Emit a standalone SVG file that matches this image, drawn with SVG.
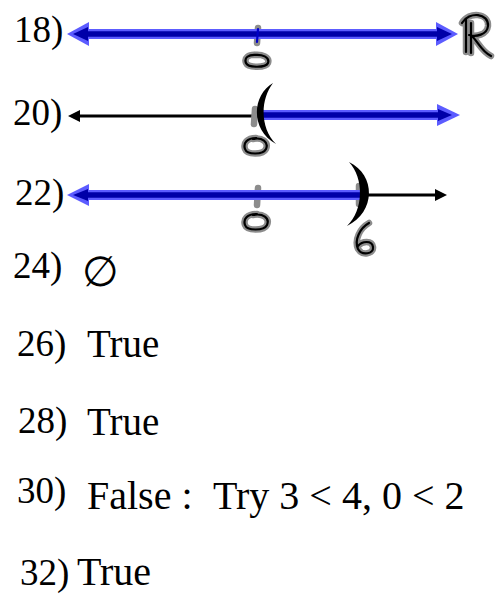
<svg xmlns="http://www.w3.org/2000/svg" width="501" height="595" viewBox="0 0 501 595">
<style>
.lbl{font-family:"Liberation Serif","Times New Roman",serif;font-size:37px;fill:#000}
.ans{font-family:"Liberation Serif","Times New Roman",serif;font-size:39px;fill:#000}
.sym{font-family:"DejaVu Serif","Liberation Serif",serif;font-size:42px;fill:#000}
.halo{fill:none;stroke:#8c8c8c;stroke-width:6.5;stroke-linecap:round;stroke-linejoin:round}
.ink{fill:none;stroke:#000;stroke-width:2.2;stroke-linecap:round;stroke-linejoin:round}
.bl{stroke:#5c5cff;stroke-width:10}
.bd{stroke:#0000a8;stroke-width:5.5}
.k{stroke:#000;stroke-width:3}
.blf{fill:#5c5cff}
.bdf{fill:#0000a8}
.kf{fill:#000}
</style>

<g id="row18">
  <text class="lbl" x="14" y="42">18)</text>
  <path class="halo" d="M258,28 L257,43"/>
  <line class="bl" x1="82" y1="34" x2="442" y2="34"/>
  <polygon class="blf" points="67,34 89,22 89,46"/>
  <polygon class="blf" points="458,34 436,22 436,46"/>
  <line class="bd" x1="82" y1="34" x2="442" y2="34"/>
  <polygon class="bdf" points="73,34 88,27 88,41"/>
  <polygon class="bdf" points="452,34 437,27 437,41"/>
  <path class="ink" d="M258,29 L257,42" style="stroke:#0000c8"/>
  <g id="zero18">
    <path class="halo" d="M257,55 C248,54 244,58 246,63 C248,68 266,68 268,63 C270,57 262,54 254,55"/>
    <path class="ink" d="M257,55 C248,54 244,58 246,63 C248,68 266,68 268,63 C270,57 262,54 254,55"/>
  </g>
  <g id="reals">
    <path class="halo" d="M466,19 L466,52 M471,23 L471,53 M462,23 C469,11 489,13 488,26 C487,35 476,37 469,35 M472,36 C478,42 482,52 491,56"/>
    <path class="ink" d="M466,19 L466,52 M471,23 L471,53 M462,23 C469,11 489,13 488,26 C487,35 476,37 469,35 M472,36 C478,42 482,52 491,56"/>
  </g>
</g>

<g id="row20">
  <text class="lbl" x="13" y="125">20)</text>
  <line class="k" x1="76" y1="116" x2="258" y2="116"/>
  <polygon class="kf" points="68,116 80,110 80,122"/>
  <path class="halo" d="M255,109 L254,124"/>
  <line class="bl" x1="262" y1="115" x2="440" y2="115"/>
  <polygon class="blf" points="460,115 437,104 437,126"/>
  <line class="bd" x1="262" y1="115" x2="440" y2="115" stroke-linecap="round"/>
  <polygon class="bdf" points="452,115 438,109 438,121"/>
  <path class="kf" d="M273,83 C252,95 250,130 276,144 C260,128 260,100 273,83 Z"/>
  <g id="zero20">
    <path class="halo" d="M256,138 C247,138 243,143 245,149 C247,155 263,155 266,149 C269,142 262,137 253,139"/>
    <path class="ink" d="M256,138 C247,138 243,143 245,149 C247,155 263,155 266,149 C269,142 262,137 253,139"/>
  </g>
</g>

<g id="row22">
  <text class="lbl" x="15" y="205">22)</text>
  <path class="halo" d="M258,188 L257,205"/>
  <path class="halo" d="M359,186 L359,204"/>
  <line class="bl" x1="82" y1="195" x2="360" y2="195"/>
  <polygon class="blf" points="67,195 89,184 89,206"/>
  <line class="bd" x1="82" y1="195" x2="360" y2="195"/>
  <polygon class="bdf" points="73,195 88,189 88,201"/>
  <line class="k" x1="362" y1="195" x2="440" y2="195"/>
  <polygon class="kf" points="447,195 435,189 435,201"/>
  <path class="kf" d="M349,162 C376,175 376,212 347,226 C364,210 364,178 349,162 Z"/>
  <g id="zero22">
    <path class="halo" d="M257,214 C247,214 243,219 245,225 C247,231 264,231 267,225 C270,218 263,213 253,215"/>
    <path class="ink" d="M257,214 C247,214 243,219 245,225 C247,231 264,231 267,225 C270,218 263,213 253,215"/>
  </g>
  <g id="six22">
    <path class="halo" d="M369,223 C360,228 354,240 358,249 C362,256 374,254 373,247 C372,240 362,241 358,246"/>
    <path class="ink" d="M369,223 C360,228 354,240 358,249 C362,256 374,254 373,247 C372,240 362,241 358,246"/>
  </g>
</g>

<g id="row24">
  <text class="lbl" x="13" y="278">24)</text>
  <text class="sym" x="82" y="286">∅</text>
</g>
<g id="row26">
  <text class="lbl" x="17" y="356">26)</text>
  <text class="ans" x="87" y="357">True</text>
</g>
<g id="row28">
  <text class="lbl" x="18" y="433">28)</text>
  <text class="ans" x="87" y="435">True</text>
</g>
<g id="row30">
  <text class="lbl" x="17" y="503">30)</text>
  <text class="ans" x="87" y="509" style="font-size:40px">False :</text>
  <text class="ans" x="213" y="509" style="font-size:40px">Try 3 &lt; 4, 0 &lt; 2</text>
</g>
<g id="row32">
  <text class="lbl" x="20" y="585">32)</text>
  <text class="ans" x="77" y="585" style="font-size:40px">True</text>
</g>
</svg>
